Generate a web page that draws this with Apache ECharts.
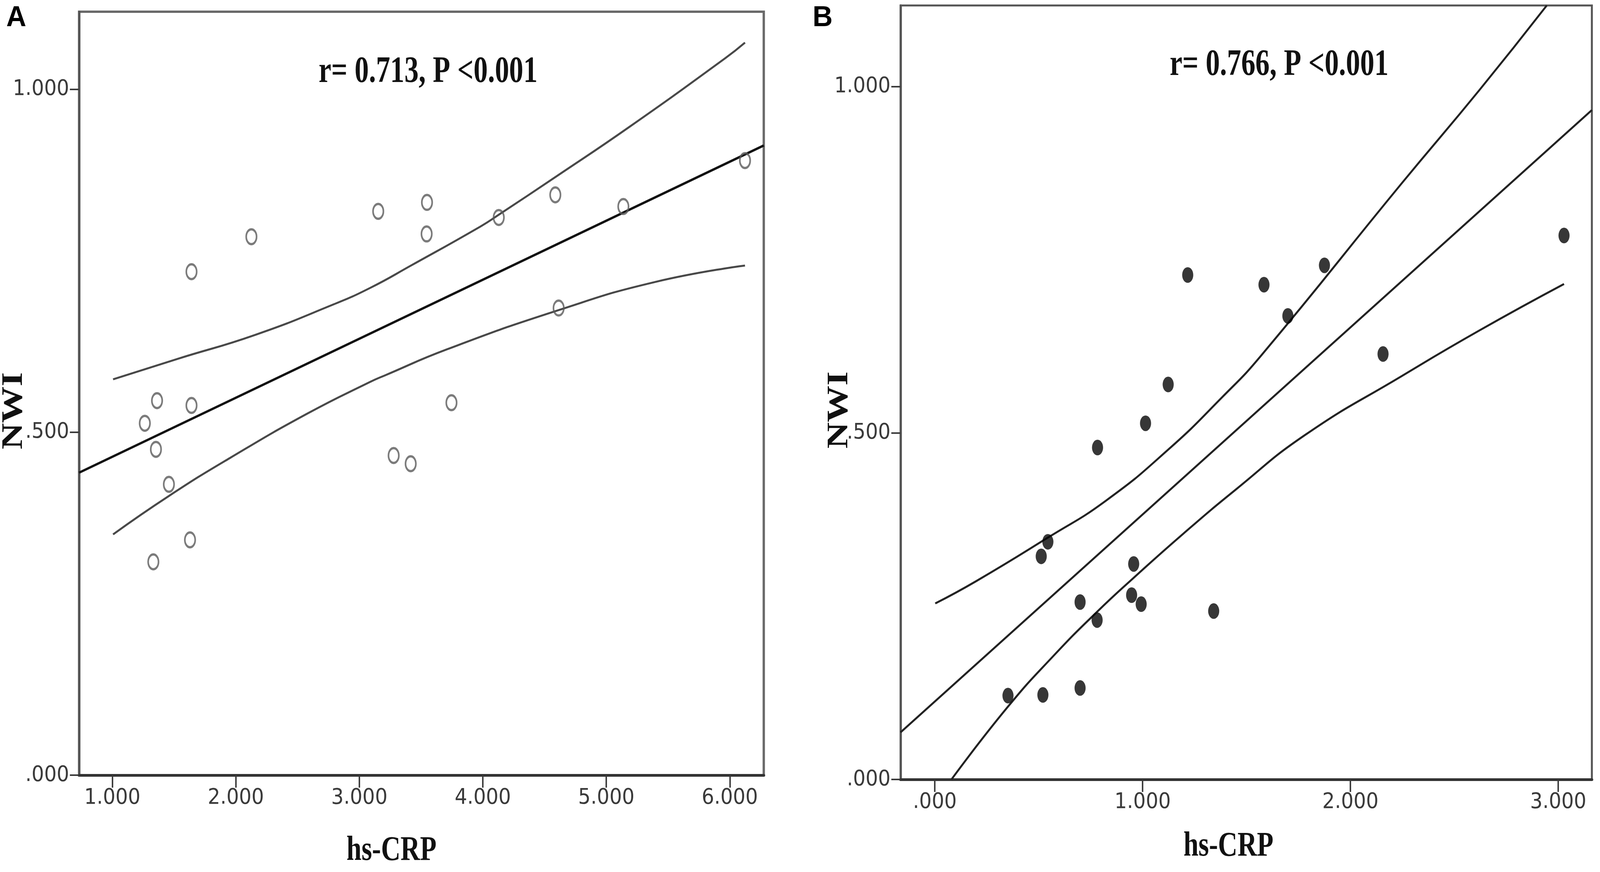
<!DOCTYPE html>
<html>
<head>
<meta charset="utf-8">
<script src="https://cdn.jsdelivr.net/npm/echarts@6/dist/echarts.min.js"></script>
<style>
html,body{margin:0;padding:0;background:#fff;overflow:hidden;}
#chart{width:100vw;height:100vh;}
</style>
</head>
<body>
<div id="chart"></div>
<script>
// ---------- Panel A data (hs-CRP vs NWI) ----------
const aX = [1.641,2.126,3.153,3.548,3.545,1.362,1.641,1.263,1.353,1.458,3.746,3.278,3.416,1.629,1.332,4.129,4.587,5.138,6.123,4.614];
const aY = [0.734,0.785,0.822,0.835,0.789,0.546,0.539,0.513,0.475,0.424,0.543,0.466,0.454,0.343,0.311,0.813,0.846,0.829,0.896,0.681];
const aFitX = [0.731, 6.275];
const aFitY = [0.441, 0.918];
const aUpX = [1.006,1.530,2.159,2.787,3.084,3.419,3.982,4.129,4.596,5.186,5.961,6.123];
const aUpY = [0.577,0.607,0.642,0.686,0.710,0.743,0.800,0.817,0.873,0.945,1.045,1.068];
const aLoX = [1.006,1.458,1.949,2.578,3.084,3.210,3.713,4.614,5.395,6.123];
const aLoY = [0.351,0.407,0.462,0.527,0.573,0.583,0.621,0.678,0.719,0.743];
const aXTicks = [1,2,3,4,5,6];
const aYTicks = [0,0.5,1];
const aNote = 'r= 0.713, P <0.001';

// ---------- Panel B data ----------
const bX = [1.123,1.014,0.783,0.544,0.512,0.957,0.699,0.947,0.993,1.342,0.781,0.352,0.520,0.699,3.028,1.875,1.584,1.699,2.157,1.217];
const bY = [0.570,0.514,0.479,0.343,0.322,0.311,0.256,0.266,0.253,0.243,0.230,0.121,0.122,0.132,0.785,0.742,0.714,0.669,0.614,0.728];
const bFitX = [-0.165, 3.162];
const bFitY = [0.068, 0.966];
const bUpX = [0.002,0.198,0.544,0.822,1.123,1.384,1.571,2.246,2.621,2.945];
const bUpY = [0.254,0.286,0.349,0.402,0.476,0.552,0.612,0.860,0.995,1.117];
const bLoX = [0.080,0.349,0.573,0.781,0.957,1.197,1.447,1.781,2.246,2.621,3.028];
const bLoY = [0.000,0.104,0.179,0.242,0.291,0.355,0.418,0.497,0.582,0.648,0.715];
const bXTicks = [0,1,2,3];
const bYTicks = [0,0.5,1];
const bNote = 'r= 0.766, P <0.001';

const xTitle = 'hs-CRP';
const yTitle = 'NWI';

// layout is designed on a 4328x2233 canvas and mapped to the real viewport
const kx = window.innerWidth / 4328;
const ky = window.innerHeight / 2233;
const X = v => v * kx;
const Y = v => v * ky;

function pairs(xs, ys){ return xs.map((x,i)=>[x, ys[i]]); }
function fmt(v){ return v.toFixed(3).replace(/^0\./, '.'); }

const tickFont = "'Liberation Sans Narrow','Arial Narrow','DejaVu Sans Condensed','Liberation Sans',sans-serif";
const serif = "'Liberation Serif','Times New Roman',serif";

function xAxisCfg(idx, min, max, ticks){
  return {
    type:'value', gridIndex:idx, min:min, max:max,
    axisLine:{show:true, onZero:false, lineStyle:{color:'#333', width:Y(7)}},
    axisTick:{show:true, length:Y(32), lineStyle:{color:'#3a3a3a', width:X(4)}, customValues:ticks},
    axisLabel:{show:true, margin:Y(30), fontSize:Y(56), color:'#3a3a3a', fontFamily:tickFont, formatter:fmt, customValues:ticks},
    splitLine:{show:false}
  };
}
function yAxisCfg(idx, min, max, ticks){
  return {
    type:'value', gridIndex:idx, min:min, max:max,
    axisLine:{show:true, onZero:false, lineStyle:{color:'#555', width:X(6)}},
    axisTick:{show:true, length:X(25), lineStyle:{color:'#3a3a3a', width:Y(4)}, customValues:ticks},
    axisLabel:{show:true, margin:X(27), fontSize:Y(56), color:'#3a3a3a', fontFamily:tickFont, formatter:fmt, customValues:ticks},
    splitLine:{show:false}
  };
}
function lineSeries(idx, xs, ys, color, width, smooth){
  return {
    type:'line', xAxisIndex:idx, yAxisIndex:idx, data:pairs(xs,ys),
    showSymbol:false, symbol:'none', smooth:smooth,
    lineStyle:{color:color, width:width}, clip:true, z:2, silent:true
  };
}
function label(text, x, y, size, opts){
  return Object.assign({
    type:'text', x:X(x), y:Y(y),
    style:{text:text, fontSize:Y(size), fontWeight:'bold', fontFamily:serif, fill:'#111', textAlign:'left', textVerticalAlign:'middle'}
  }, opts || {});
}

const chart = echarts.init(document.getElementById('chart'), null, {renderer:'canvas'});
chart.setOption({
  backgroundColor:'#fff',
  animation:false,
  grid:[
    {left:X(214), top:Y(30), width:X(1852), height:Y(1955), show:true, borderColor:'#6a6a6a', borderWidth:Y(6), containLabel:false},
    {left:X(2436), top:Y(14), width:X(1870), height:Y(1982), show:true, borderColor:'#555', borderWidth:Y(5), containLabel:false}
  ],
  xAxis:[ xAxisCfg(0, 0.731, 6.275, aXTicks), xAxisCfg(1, -0.165, 3.162, bXTicks) ],
  yAxis:[ yAxisCfg(0, 0, 1.113, aYTicks), yAxisCfg(1, 0, 1.117, bYTicks) ],
  series:[
    lineSeries(0, aUpX, aUpY, '#484848', Y(5), 0.5),
    lineSeries(0, aLoX, aLoY, '#484848', Y(5), 0.5),
    lineSeries(0, aFitX, aFitY, '#111', Y(6), false),
    {
      type:'scatter', xAxisIndex:0, yAxisIndex:0, data:pairs(aX,aY),
      symbol:'circle', symbolSize:[X(28),Y(38)],
      itemStyle:{color:'rgba(255,255,255,0)', borderColor:'#5a5a5a', borderWidth:Y(5)}, z:3
    },
    lineSeries(1, bUpX, bUpY, '#222', Y(5), 0.5),
    lineSeries(1, bLoX, bLoY, '#222', Y(5), 0.5),
    lineSeries(1, bFitX, bFitY, '#222', Y(5), false),
    {
      type:'scatter', xAxisIndex:1, yAxisIndex:1, data:pairs(bX,bY),
      symbol:'circle', symbolSize:[X(30),Y(40)],
      itemStyle:{color:'#050505'}, z:3
    }
  ],
  graphic:[
    label('A', 17, 46, 75, {scaleX:kx/ky, style:{text:'A', fontSize:Y(75), fontWeight:'bold', fontFamily:"'Liberation Sans',Arial,sans-serif", fill:'#000', textAlign:'left', textVerticalAlign:'middle'}}),
    label('B', 2198, 46, 75, {scaleX:kx/ky, style:{text:'B', fontSize:Y(75), fontWeight:'bold', fontFamily:"'Liberation Sans',Arial,sans-serif", fill:'#000', textAlign:'left', textVerticalAlign:'middle'}}),
    label(aNote, 862, 185, 95, {scaleX:0.81*kx/ky}),
    label(bNote, 3164, 167, 95, {scaleX:0.81*kx/ky}),
    label(xTitle, 1059, 2179, 88, {scaleX:0.83*kx/ky, style:{text:xTitle, fontSize:Y(88), fontWeight:'bold', fontFamily:serif, fill:'#111', textAlign:'center', textVerticalAlign:'middle'}}),
    label(xTitle, 3323, 2168, 88, {scaleX:0.83*kx/ky, style:{text:xTitle, fontSize:Y(88), fontWeight:'bold', fontFamily:serif, fill:'#111', textAlign:'center', textVerticalAlign:'middle'}}),
    label(yTitle, 39, 1052, 80, {rotation:Math.PI/2, scaleX:1.17, scaleY:kx/ky, style:{text:yTitle, fontSize:Y(80), fontWeight:'bold', fontFamily:serif, fill:'#111', textAlign:'center', textVerticalAlign:'middle'}}),
    label(yTitle, 2271, 1050, 80, {rotation:Math.PI/2, scaleX:1.17, scaleY:kx/ky, style:{text:yTitle, fontSize:Y(80), fontWeight:'bold', fontFamily:serif, fill:'#111', textAlign:'center', textVerticalAlign:'middle'}})
  ]
});
</script>
</body>
</html>
